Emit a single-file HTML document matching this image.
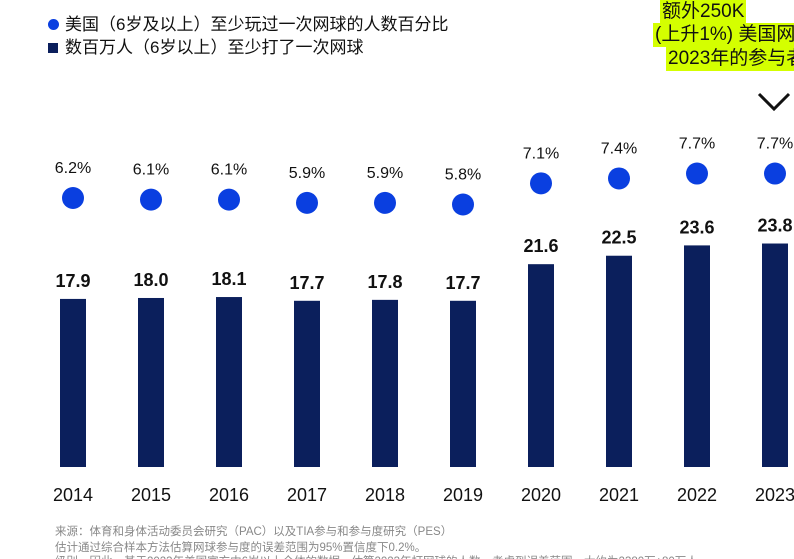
<!DOCTYPE html>
<html style="overflow:hidden;height:559px"><head><meta charset="utf-8"><style>
body{margin:0;width:794px;height:559px;overflow:hidden;background:#fff;font-family:"Liberation Sans","Noto Sans CJK SC",sans-serif;position:relative}
.leg{position:absolute;left:48px;font-size:17px;color:#111;white-space:nowrap}
.hl{position:absolute;background:#d4ff00;font-size:19px;color:#111;white-space:nowrap;line-height:24px;padding:0 2px}
.fn{position:absolute;left:55px;font-size:11.5px;color:#888;white-space:nowrap}
</style></head><body>
<div class="leg" style="top:10px"><span style="display:inline-block;width:11px;height:11px;border-radius:50%;background:#0a3fe0;margin-right:6px"></span>美国（6岁及以上）至少玩过一次网球的人数百分比</div>
<div class="leg" style="top:33px"><span style="display:inline-block;width:10px;height:10px;background:#0b1f5c;margin-right:7px"></span>数百万人（6岁以上）至少打了一次网球</div>
<div class="hl" style="left:660px;top:0px">额外250K</div>
<div class="hl" style="left:653px;top:23px">(上升1%) 美国网球</div>
<div class="hl" style="left:666px;top:47px">2023年的参与者</div>
<svg id="chart" width="794" height="559" style="position:absolute;left:0;top:0">
<polyline points="759,94 774,109 789,94" fill="none" stroke="#111" stroke-width="3"/>
</svg>
<div class="fn" style="top:523px">来源：体育和身体活动委员会研究（PAC）以及TIA参与和参与度研究（PES）</div>
<div class="fn" style="top:539px">估计通过综合样本方法估算网球参与度的误差范围为95%置信度下0.2%。</div>
<div class="fn" style="top:553px">级别、因此，基于2023年美国官方中6岁以上全体的数据，估算2023年打网球的人数，考虑到误差范围，大约为2380万±80万人</div>
<script>
const years=["2014","2015","2016","2017","2018","2019","2020","2021","2022","2023"];
const millions=[17.9,18.0,18.1,17.7,17.8,17.7,21.6,22.5,23.6,23.8];
const percents=[6.2,6.1,6.1,5.9,5.9,5.8,7.1,7.4,7.7,7.7];
const svg=document.getElementById('chart');
const NS='http://www.w3.org/2000/svg';
const x=i=>73+i*78;
const yBar=v=>467-v*9.39;
const yDot=v=>198-(v-6.2)*16.3;
function mk(t,a){const e=document.createElementNS(NS,t);for(const k in a)e.setAttribute(k,a[k]);svg.appendChild(e);return e;}
years.forEach((yr,i)=>{
 const top=yBar(millions[i]);
 const b=mk('rect',{x:x(i)-13,y:top,width:26,height:467-top,fill:'#0b1f5c'});
 
 
 const vl=mk('text',{x:x(i),y:top-12,'text-anchor':'middle','font-size':'18','font-weight':'bold',fill:'#111'});
 vl.textContent=millions[i].toFixed(1);
 
 
 const cy=yDot(percents[i]);
 const d=mk('circle',{cx:x(i),cy:cy,r:11,fill:'#0a3fe0'});
 
 
 const pl=mk('text',{x:x(i),y:cy-25,'text-anchor':'middle','font-size':'16',fill:'#111'});
 pl.textContent=percents[i].toFixed(1)+'%';
 
 
 const xl=mk('text',{x:x(i),y:501,'text-anchor':'middle','font-size':'18',fill:'#111'});
 xl.textContent=yr;
 
 
});
</script>
</body></html>
